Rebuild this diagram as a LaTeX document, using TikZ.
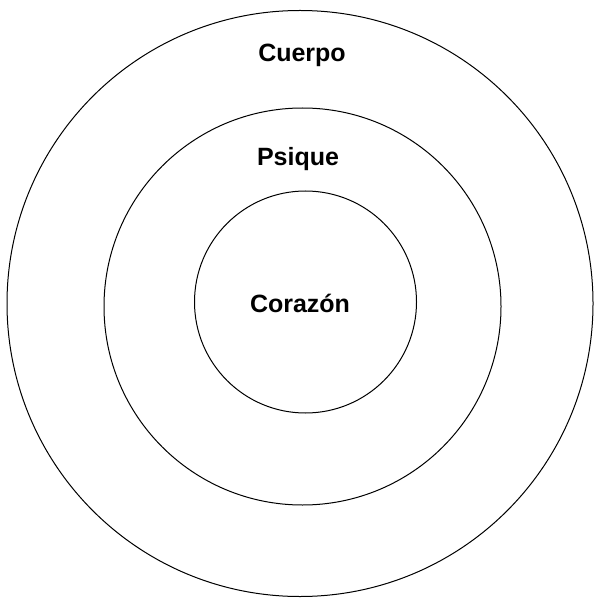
\documentclass[tikz,border=0pt]{standalone}
\usepackage{fontspec}
\setmainfont{Liberation Sans}
\usepackage{tikz}
\usetikzlibrary{positioning}

\begin{document}
\begin{tikzpicture}[x=1pt, y=-1pt,
    ring/.style={circle, draw, line width=1pt, inner sep=0pt},
    lbl/.style={font=\fontsize{25}{29}\selectfont\bfseries, inner sep=0pt}]
    \useasboundingbox (0,0) rectangle (595,601);
    % the three rings
    \node[ring, minimum size=586pt] (cuerpoRing) at (300,303.5) {};
    \node[ring, minimum size=397pt] (psiqueRing) at (302.5,306.5) {};
    \node[ring, minimum size=222pt] (corazonRing) at (305.5,302) {};
    % labels
    \node[lbl] (cuerpo) at (302,55) {Cuerpo};
    \node[lbl] (psique) at (298,159) {Psique};
    \node[lbl] (corazon) at (300,303) {Corazón};
\end{tikzpicture}
\end{document}
